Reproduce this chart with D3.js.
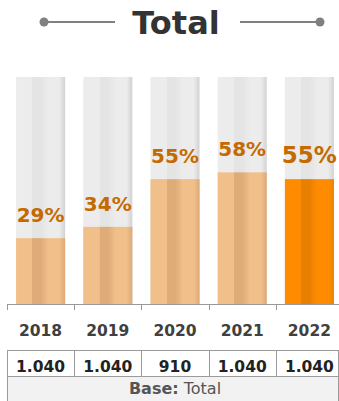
<!DOCTYPE html>
<html><head><meta charset="utf-8">
<script src="https://cdn.jsdelivr.net/npm/d3@7"></script>
<style>html,body{margin:0;padding:0;background:#fff;overflow:hidden}</style>
</head><body>
<svg id="c" width="339" height="401"></svg>
<script>
const title = "Total";
const years = ["2018","2019","2020","2021","2022"];
const values = [29, 34, 55, 58, 55];
const bases = ["1.040","1.040","910","1.040","1.040"];
const baseLabel = ["Base:", " Total"];
const highlightIndex = 4;

const FONT = "'DejaVu Sans', sans-serif";
const svg = d3.select("#c");
const defs = svg.append("defs");

function stripeGrad(id, c1, c2, c3) {
  const g = defs.append("linearGradient").attr("id", id).attr("x1", 0).attr("x2", 1).attr("y1", 0).attr("y2", 0);
  [[0,c1],[0.33,c1],[0.335,c2],[0.5,c2],[0.66,c1],[0.665,c1],[0.88,c1],[1,c3]].forEach(([o,c]) =>
    g.append("stop").attr("offset", o).attr("stop-color", c));
}
stripeGrad("gBg", "#ececec", "#e4e4e4", "#d2d2d2");
stripeGrad("gPeach", "#f0bf8a", "#dfab78", "#deaa78");
stripeGrad("gOrange", "#ff8c00", "#e97f00", "#ef8300");

const x = d3.scaleBand().domain(years).range([7, 343]).paddingInner(0.27).paddingOuter(0.135);
const xCell = d3.scaleBand().domain(years).range([7, 343]).padding(0);
const y = d3.scaleLinear().domain([0, 100]).range([304, 77]);

// Title
svg.append("text").attr("x", 176).attr("y", 34).attr("text-anchor", "middle")
  .attr("font-family", FONT).attr("font-weight", "bold").attr("font-size", 32)
  .attr("fill", "#333").text(title);
const deco = svg.append("g").attr("stroke", "#808080").attr("fill", "#808080");
deco.append("line").attr("x1", 44).attr("x2", 115).attr("y1", 22).attr("y2", 22).attr("stroke-width", 2.2);
deco.append("line").attr("x1", 240).attr("x2", 320).attr("y1", 22).attr("y2", 22).attr("stroke-width", 2.2);
deco.append("circle").attr("cx", 44).attr("cy", 22).attr("r", 4.5).attr("stroke", "none");
deco.append("circle").attr("cx", 320).attr("cy", 22).attr("r", 4.5).attr("stroke", "none");

// Background bars
svg.append("g").selectAll("rect").data(years).join("rect")
  .attr("x", d => x(d)).attr("width", x.bandwidth())
  .attr("y", y(100)).attr("height", y(0) - y(100))
  .attr("fill", "url(#gBg)");

// Value bars
svg.append("g").selectAll("rect").data(values).join("rect")
  .attr("x", (d, i) => x(years[i])).attr("width", x.bandwidth())
  .attr("y", d => y(d)).attr("height", d => y(0) - y(d))
  .attr("fill", (d, i) => i === highlightIndex ? "url(#gOrange)" : "url(#gPeach)");

// Value labels
svg.append("g").selectAll("text").data(values).join("text")
  .attr("x", (d, i) => x(years[i]) + x.bandwidth() / 2)
  .attr("y", d => y(d) - 16)
  .attr("text-anchor", "middle")
  .attr("font-family", FONT).attr("font-weight", "bold")
  .attr("font-size", (d, i) => i === highlightIndex ? 23 : 20)
  .attr("fill", "#c46a00")
  .text(d => d + "%");

// Axis
const axisG = svg.append("g").attr("stroke", "#999").attr("stroke-width", 1);
axisG.append("line").attr("x1", 7).attr("x2", 339).attr("y1", 304.5).attr("y2", 304.5);
axisG.selectAll("line.tick").data(years).join("line").attr("class", "tick")
  .attr("x1", d => Math.round(xCell(d)) + 0.5).attr("x2", d => Math.round(xCell(d)) + 0.5)
  .attr("y1", 304.5).attr("y2", 310);

// Year labels
svg.append("g").selectAll("text").data(years).join("text")
  .attr("x", d => xCell(d) + xCell.bandwidth() / 2).attr("y", 336)
  .attr("text-anchor", "middle")
  .attr("font-family", FONT).attr("font-weight", "bold").attr("font-size", 15.5)
  .attr("fill", "#404040").text(d => d);

// Table
const tbl = svg.append("g");
tbl.append("rect").attr("x", 7.5).attr("y", 376.5).attr("width", 331).attr("height", 30)
  .attr("fill", "#f2f2f2").attr("stroke", "#9a9a9a");
tbl.append("rect").attr("x", 7.5).attr("y", 350.5).attr("width", 331).attr("height", 26)
  .attr("fill", "#fff").attr("stroke", "#9a9a9a");
tbl.selectAll("line.sep").data(years.slice(1)).join("line").attr("class", "sep")
  .attr("x1", d => Math.round(xCell(d)) + 0.5).attr("x2", d => Math.round(xCell(d)) + 0.5)
  .attr("y1", 350.5).attr("y2", 376.5).attr("stroke", "#9a9a9a");
tbl.selectAll("text.base").data(bases).join("text").attr("class", "base")
  .attr("x", (d, i) => xCell(years[i]) + xCell.bandwidth() / 2).attr("y", 372)
  .attr("text-anchor", "middle")
  .attr("font-family", FONT).attr("font-weight", "bold").attr("font-size", 15.5)
  .attr("fill", "#222").text(d => d);
const bt = tbl.append("text").attr("x", 175).attr("y", 394).attr("text-anchor", "middle")
  .attr("font-family", FONT).attr("font-size", 16).attr("fill", "#555");
bt.append("tspan").attr("font-weight", "bold").text(baseLabel[0]);
bt.append("tspan").text(baseLabel[1]);
</script>
</body></html>
